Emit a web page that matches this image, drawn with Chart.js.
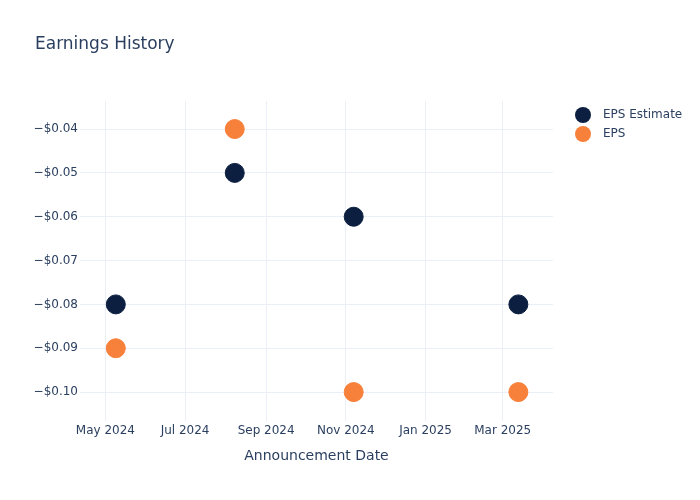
<!DOCTYPE html>
<html>
<head>
<meta charset="utf-8">
<script src="https://cdn.jsdelivr.net/npm/chart.js@4/dist/chart.umd.min.js"></script>
<style>
html,body{margin:0;padding:0;background:#fff;}
#wrap{width:700px;height:500px;position:relative;}
</style>
</head>
<body>
<div id="wrap"><canvas id="c" width="700" height="500"></canvas></div>
<script>
const dates = ["2024-05-09", "2024-08-08", "2024-11-07", "2025-03-13"];
const epsEstimate = [-0.08, -0.05, -0.06, -0.08];
const epsActual = [-0.09, -0.04, -0.10, -0.10];
const xTickDates = ["2024-05-01", "2024-07-01", "2024-09-01", "2024-11-01", "2025-01-01", "2025-03-01"];
const xTickLabels = ["May 2024", "Jul 2024", "Sep 2024", "Nov 2024", "Jan 2025", "Mar 2025"];
const yTickValues = [-0.04, -0.05, -0.06, -0.07, -0.08, -0.09, -0.10];
const seriesNames = ["EPS Estimate", "EPS"];
const seriesColors = ["#0c1f41", "#f7803a"];

const FONT = "'DejaVu Sans', sans-serif";
const TXT = "#2a3f5f";
const base = Date.UTC(2024, 4, 1);
function dayNum(s) {
  const p = s.split("-").map(Number);
  return (Date.UTC(p[0], p[1] - 1, p[2]) - base) / 86400000;
}
const xs = dates.map(dayNum);
const xTicks = xTickDates.map(dayNum);

function fmt(v) {
  const s = "$" + Math.abs(v).toFixed(2);
  return v < 0 ? "\u2212" + s : s;
}

const overlay = {
  id: "overlay",
  afterDraw(chart) {
    const ctx = chart.ctx;
    const ca = chart.chartArea;
    ctx.save();
    ctx.fillStyle = TXT;
    ctx.font = "17px " + FONT;
    ctx.textBaseline = "middle";
    ctx.textAlign = "left";
    ctx.fillText("Earnings History", 35, 45);
    ctx.font = "14px " + FONT;
    ctx.textAlign = "center";
    ctx.fillText("Announcement Date", (ca.left + ca.right) / 2, 456);
    ctx.textAlign = "left";
    ctx.font = "12px " + FONT;
    seriesNames.forEach((n, i) => {
      const y = 115 + i * 19;
      ctx.beginPath();
      ctx.arc(583, y, 8, 0, Math.PI * 2);
      ctx.fillStyle = seriesColors[i];
      ctx.fill();
      ctx.fillStyle = TXT;
      ctx.fillText(n, 603, y);
    });
    ctx.restore();
  }
};

new Chart(document.getElementById("c"), {
  type: "scatter",
  data: {
    datasets: [
      {
        label: seriesNames[0],
        data: xs.map((x, i) => ({ x: x, y: epsEstimate[i] })),
        backgroundColor: seriesColors[0],
        borderColor: seriesColors[0],
        pointRadius: 9.5,
        pointHoverRadius: 9.5,
        borderWidth: 1
      },
      {
        label: seriesNames[1],
        data: xs.map((x, i) => ({ x: x, y: epsActual[i] })),
        backgroundColor: seriesColors[1],
        borderColor: seriesColors[1],
        pointRadius: 9.5,
        pointHoverRadius: 9.5,
        borderWidth: 1
      }
    ]
  },
  options: {
    responsive: false,
    animation: false,
    layout: { padding: { top: 101, left: 0, right: 147, bottom: 0 } },
    plugins: {
      legend: { display: false },
      title: { display: false },
      tooltip: { enabled: false }
    },
    scales: {
      x: {
        type: "linear",
        min: -19.4,
        max: 342.5,
        afterBuildTicks(s) { s.ticks = xTicks.map(v => ({ value: v })); },
        afterFit(s) { s.height = 79; },
        ticks: {
          callback: (v) => { const i = xTicks.indexOf(v); return i >= 0 ? xTickLabels[i] : ""; },
          color: TXT,
          font: { family: FONT, size: 12 },
          padding: 3,
          maxRotation: 0,
          autoSkip: false
        },
        grid: { color: "#ebf0f8", drawTicks: false, lineWidth: 1 },
        border: { display: false }
      },
      y: {
        type: "linear",
        min: -0.1066,
        max: -0.0336,
        afterBuildTicks(s) { s.ticks = yTickValues.map(v => ({ value: v })); },
        afterFit(s) { s.width = 80; },
        ticks: {
          callback: (v) => fmt(v),
          color: TXT,
          font: { family: FONT, size: 12 },
          padding: 2
        },
        grid: { color: "#ebf0f8", drawTicks: false, lineWidth: 1 },
        border: { display: false }
      }
    }
  },
  plugins: [overlay]
});
</script>
</body>
</html>
